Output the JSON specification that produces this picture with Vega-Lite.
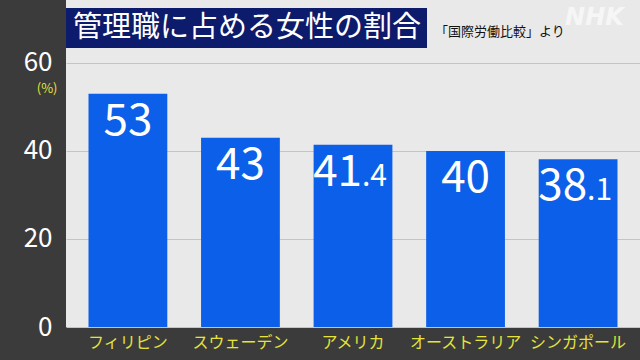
{
  "$schema": "https://vega.github.io/schema/vega-lite/v6.json",
  "width": 574,
  "height": 327,
  "autosize": {"type": "none"},
  "padding": {"left": 66, "top": 0, "right": 0, "bottom": 33},
  "background": "#3b3b3b",
  "view": {"fill": "#e9e9e9", "stroke": null},
  "config": {"font": "Noto Sans CJK JP"},
  "title": {
    "text": "「国際労働比較」より",
    "anchor": "start",
    "frame": "group",
    "orient": "top",
    "dx": 369,
    "offset": -52,
    "baseline": "bottom",
    "fontSize": 13,
    "fontWeight": "normal",
    "color": "#111111",
    "font": "Noto Sans CJK JP"
  },
  "data": {
    "values": [
      {"country": "フィリピン", "value": 53, "int": "53", "dec": ""},
      {"country": "スウェーデン", "value": 43, "int": "43", "dec": ""},
      {"country": "アメリカ", "value": 41.4, "int": "41", "dec": ".4"},
      {"country": "オーストラリア", "value": 40, "int": "40", "dec": ""},
      {"country": "シンガポール", "value": 38.1, "int": "38", "dec": ".1"}
    ]
  },
  "encoding": {
    "x": {
      "field": "country",
      "type": "nominal",
      "sort": null,
      "scale": {"paddingInner": 0.3, "paddingOuter": 0.2},
      "axis": {
        "title": "NHK",
        "titleX": 528,
        "titleY": -310,
        "titleBaseline": "middle",
        "titleAlign": "center",
        "titleColor": "rgba(255,255,255,0.65)",
        "titleFont": "DejaVu Sans",
        "titleFontSize": 24,
        "titleFontWeight": "bold",
        "titleFontStyle": "italic",
        "labelColor": "#e4e43a",
        "labelFontSize": 16,
        "labelPadding": 7,
        "labelAngle": 0,
        "labelOverlap": false,
        "labelLimit": 300,
        "domain": false,
        "ticks": false
      }
    },
    "y": {
      "field": "value",
      "type": "quantitative",
      "scale": {"domain": [0, 74.3], "nice": false},
      "axis": {
        "values": [0, 20, 40, 60],
        "title": "(%)",
        "titleAngle": 0,
        "titleColor": "#e4e43a",
        "titleFontSize": 13,
        "titleFontWeight": "normal",
        "titleAlign": "right",
        "titleBaseline": "middle",
        "titleX": -9,
        "titleY": 88,
        "labelColor": "#ffffff",
        "labelFontSize": 26,
        "labelPadding": 14,
        "domain": false,
        "ticks": false,
        "grid": true,
        "gridColor": "#c4c4c4",
        "gridWidth": 1
      }
    }
  },
  "layer": [
    {
      "mark": {"type": "bar"},
      "encoding": {
        "color": {
          "datum": "管理職に占める女性の割合",
          "scale": {"range": ["#0c5fe8"]},
          "legend": {
            "title": null,
            "orient": "none",
            "legendX": 0,
            "legendY": 8,
            "fillColor": "#0d1b6c",
            "padding": 5,
            "symbolSize": 0,
            "symbolStrokeWidth": 0,
            "symbolOpacity": 0,
            "labelOffset": -27,
            "labelFontSize": 29,
            "labelColor": "#ffffff",
            "labelFont": "Noto Sans CJK JP",
            "labelLimit": 600
          }
        }
      }
    },
    {
      "transform": [{"filter": "datum.dec == ''"}],
      "mark": {"type": "text", "align": "center", "baseline": "alphabetic", "dy": 41, "fontSize": 44, "color": "#ffffff"},
      "encoding": {"text": {"field": "int"}}
    },
    {
      "transform": [{"filter": "datum.dec != ''"}],
      "mark": {"type": "text", "align": "right", "baseline": "alphabetic", "dx": 9, "dy": 41, "fontSize": 44, "color": "#ffffff"},
      "encoding": {"text": {"field": "int"}}
    },
    {
      "transform": [{"filter": "datum.dec != ''"}],
      "mark": {"type": "text", "align": "left", "baseline": "alphabetic", "dx": 9, "dy": 41, "fontSize": 30, "color": "#ffffff"},
      "encoding": {"text": {"field": "dec"}}
    }
  ]
}
